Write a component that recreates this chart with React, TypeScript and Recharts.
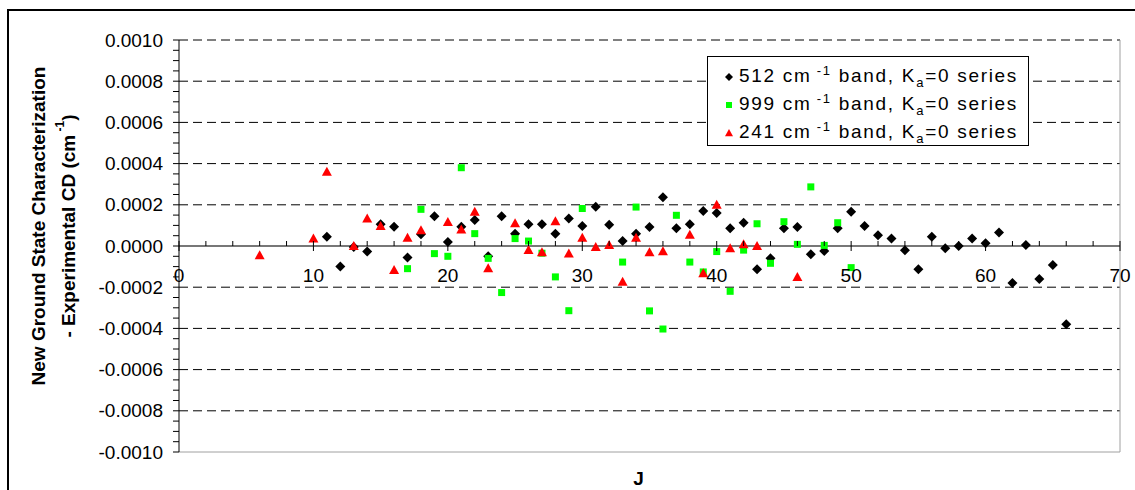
import { ScatterChart, Scatter, XAxis, YAxis, ReferenceLine, Legend } from 'recharts';

// 512 cm-1 band (black diamonds)
const j512 = [11, 12, 13, 14, 15, 16, 17, 18, 19, 20, 21, 22, 23, 24, 25, 26, 27, 28, 29, 30, 31, 32, 33, 34, 35, 36, 37, 38, 39, 40,
  41, 42, 43, 44, 45, 46, 47, 48, 49, 50, 51, 52, 53, 54, 55, 56, 57, 58, 59, 60, 61, 62, 63, 64, 65, 66];
const cd512 = [0.000045, -0.0001, -0.000005, -0.000027, 0.000105, 0.000094, -0.000056, 0.000057, 0.000145, 0.00002,
  0.000094, 0.000126, -0.00005, 0.000145, 0.00006, 0.000105, 0.000105, 0.00006, 0.000134, 0.000097,
  0.00019, 0.000103, 0.000024, 0.00006, 0.000092, 0.000237, 0.000086, 0.000105, 0.00017, 0.00016,
  0.000086, 0.000113, -0.000113, -0.00006, 0.000086, 0.000092, -0.00004, -0.000024, 0.000086, 0.000166,
  0.000097, 0.000052, 0.000036, -0.000021, -0.000113, 0.000045, -0.000011, 0, 0.000036, 0.000013,
  0.000065, -0.00018, 0.000005, -0.00016, -0.000092, -0.00038];

// 999 cm-1 band (green squares)
const j999 = [17, 18, 19, 20, 21, 22, 23, 24, 25, 26, 27, 28, 29, 30, 33, 34, 35, 36, 37, 38, 39, 40, 41, 42, 43, 44, 45, 46, 47, 48, 49, 50];
const cd999 = [-0.00011, 0.000178, -0.000037, -0.00005, 0.00038, 0.00006, -0.00006, -0.000226, 0.000036, 0.000024,
  -0.000035, -0.00015, -0.000314, 0.000182, -0.000078, 0.000189, -0.000315, -0.000403, 0.000149, -0.000078,
  -0.000126, -0.000027, -0.00022, -0.00002, 0.000108, -0.000084, 0.000118, 0.000008, 0.000287, 0.000003,
  0.000113, -0.000105];

// 241 cm-1 band (red triangles)
const j241 = [6, 10, 11, 13, 14, 15, 16, 17, 18, 20, 21, 22, 23, 25, 26, 27, 28, 29, 30, 31, 32, 33, 34, 35, 36, 38, 39, 40, 41, 42, 43, 46];
const cd241 = [-0.000045, 0.000036, 0.00036, 0, 0.000134, 0.000097, -0.000116, 0.00004, 0.000077, 0.000116,
  0.00008, 0.000166, -0.000108, 0.00011, -0.00002, -0.00003, 0.00012, -0.000037, 0.00004, -0.000005,
  0.000005, -0.000174, 0.00004, -0.00003, -0.000025, 0.000055, -0.000132, 0.0002, -0.000011, 0.000008,
  0, -0.00015];

const bands = ['512', '999', '241'];
const colors = ['#000000', '#00ff00', '#ff0000'];

const xLabelTicks = [0, 10, 20, 30, 40, 50, 60, 70];
const xTicks = Array.from({ length: 36 }, (_, i) => i * 2);
const yLabelTicks = [-0.001, -0.0008, -0.0006, -0.0004, -0.0002, 0, 0.0002, 0.0004, 0.0006, 0.0008, 0.001];
const yTicks = Array.from({ length: 41 }, (_, i) => +(-0.001 + i * 0.00005).toFixed(5));

const FONT = '"Liberation Sans", Arial, sans-serif';
const W = 1135;
const H = 490;
const TOP = 40;
const AXIS_H = 38;
const ZERO_Y = (TOP + (H - AXIS_H)) / 2;

const toPoints = (js: number[], vals: number[]) => js.map((j, i) => ({ j, cd: vals[i] }));

const Diamond = ({ cx, cy, s = 5 }: any) => (
  <path d={`M${cx},${cy - s}L${cx + s},${cy}L${cx},${cy + s}L${cx - s},${cy}Z`} fill={colors[0]} />
);
const Square = ({ cx, cy, s = 7 }: any) => (
  <rect x={cx - s / 2} y={cy - s / 2} width={s} height={s} fill={colors[1]} />
);
const Triangle = ({ cx, cy, s = 5 }: any) => (
  <path d={`M${cx},${cy - s}L${cx + s},${cy + s * 0.8}L${cx - s},${cy + s * 0.8}Z`} fill={colors[2]} />
);
const markers = [Diamond, Square, Triangle];

const isYLabel = (v: number) => yLabelTicks.some((t) => Math.abs(t - v) < 1e-9);

const YTick = ({ x, y, payload }: any) => {
  if (!isYLabel(payload.value)) return <g />;
  return (
    <text x={x} y={y} dy={6.5} textAnchor="end" fontSize={19} fontFamily={FONT} fill="#000">
      {payload.value.toFixed(4)}
    </text>
  );
};

// x axis sits on the zero line, Excel style
const XTick = ({ x, payload }: any) => {
  const major = xLabelTicks.includes(payload.value);
  return (
    <g>
      <line x1={x} x2={x} y1={ZERO_Y - 5} y2={major ? ZERO_Y + 5 : ZERO_Y} stroke="#000" />
      {major && (
        <text x={x} y={ZERO_Y + 36} textAnchor="middle" fontSize={19} fontFamily={FONT} fill="#000">
          {payload.value}
        </text>
      )}
    </g>
  );
};

const XTitle = ({ viewBox }: any) => (
  <text x={viewBox.x + viewBox.width / 2 - 11} y={485} textAnchor="middle" fontSize={19} fontWeight="bold" fontFamily={FONT} fill="#000">
    J
  </text>
);

const YTitle = () => {
  const cy = 226;
  return (
    <g fontSize={19} fontWeight="bold" fontFamily={FONT} fill="#000">
      <text x={38} y={cy} textAnchor="middle" dominantBaseline="central" transform={`rotate(-90 38 ${cy})`}>
        New Ground State Characterization
      </text>
      <text x={68} y={cy} textAnchor="middle" dominantBaseline="central" transform={`rotate(-90 68 ${cy})`}>
        - Experimental CD (cm
        <tspan fontSize={12} dy={-8}> -1</tspan>
        <tspan dy={8}>)</tspan>
      </text>
    </g>
  );
};

const LegendBox = () => (
  <div
    style={{
      width: 322,
      boxSizing: 'border-box',
      border: '1px solid #000',
      background: '#fff',
      padding: '6px 0 0 15px',
      height: 90,
      fontFamily: FONT,
      fontSize: 19,
      color: '#000',
    }}
  >
    {bands.map((band, i) => {
      const M = markers[i];
      return (
        <div key={band} style={{ height: 28, display: 'flex', alignItems: 'center', whiteSpace: 'nowrap' }}>
          <svg width={12} height={12}>
            <M cx={6} cy={6} s={i === 1 ? 6 : 4} />
          </svg>
          <span style={{ marginLeft: 4, letterSpacing: 1.7 }}>
            {band} cm<sup style={{ fontSize: 13 }}> -1</sup> band, K<sub style={{ fontSize: 13 }}>a</sub>=0 series
          </span>
        </div>
      );
    })}
  </div>
);

const seriesData = [toPoints(j512, cd512), toPoints(j999, cd999), toPoints(j241, cd241)];

export default function App() {
  return (
    <div style={{ position: 'absolute', left: 0, top: 0, width: W, height: H, overflow: 'hidden', background: '#fff' }}>
      <div style={{ position: 'absolute', left: 7, top: 9, width: 1200, height: 600, border: '2px solid #000' }} />
      <div style={{ position: 'absolute', left: 0, top: 0 }}>
        <ScatterChart width={W} height={H} margin={{ top: TOP, right: 15, bottom: 0, left: 0 }}>
          <XAxis
            type="number"
            dataKey="j"
            domain={[0, 70]}
            ticks={xTicks}
            interval={0}
            axisLine={false}
            tickLine={false}
            tick={<XTick />}
            height={AXIS_H}
            label={<XTitle />}
          />
          <YAxis
            type="number"
            dataKey="cd"
            domain={[-0.001, 0.001]}
            ticks={yTicks}
            interval={0}
            width={179}
            axisLine={{ stroke: '#000' }}
            tickLine={{ stroke: '#000' }}
            tickSize={6}
            tickMargin={10}
            tick={<YTick />}
            label={<YTitle />}
            allowDataOverflow
          />
          {yLabelTicks
            .filter((t) => t !== 0 && t !== -0.001)
            .map((t) => (
              <ReferenceLine key={t} y={t} stroke="#000" strokeDasharray="9 5" />
            ))}
          <ReferenceLine y={-0.001} stroke="#a0a0a0" />
          <ReferenceLine x={70} stroke="#a0a0a0" />
          <ReferenceLine y={0} stroke="#777" strokeWidth={2} />
          {bands.map((band, i) => {
            const M = markers[i];
            return (
              <Scatter
                key={band}
                name={`${band} cm-1 band, Ka=0 series`}
                data={seriesData[i]}
                fill={colors[i]}
                shape={(p: any) => <M cx={p.cx} cy={p.cy} />}
                isAnimationActive={false}
              />
            );
          })}
          <Legend
            layout="horizontal"
            align="center"
            verticalAlign="middle"
            content={<LegendBox />}
            wrapperStyle={{ top: 56, left: 707, width: 322 }}
          />
        </ScatterChart>
      </div>
    </div>
  );
}
